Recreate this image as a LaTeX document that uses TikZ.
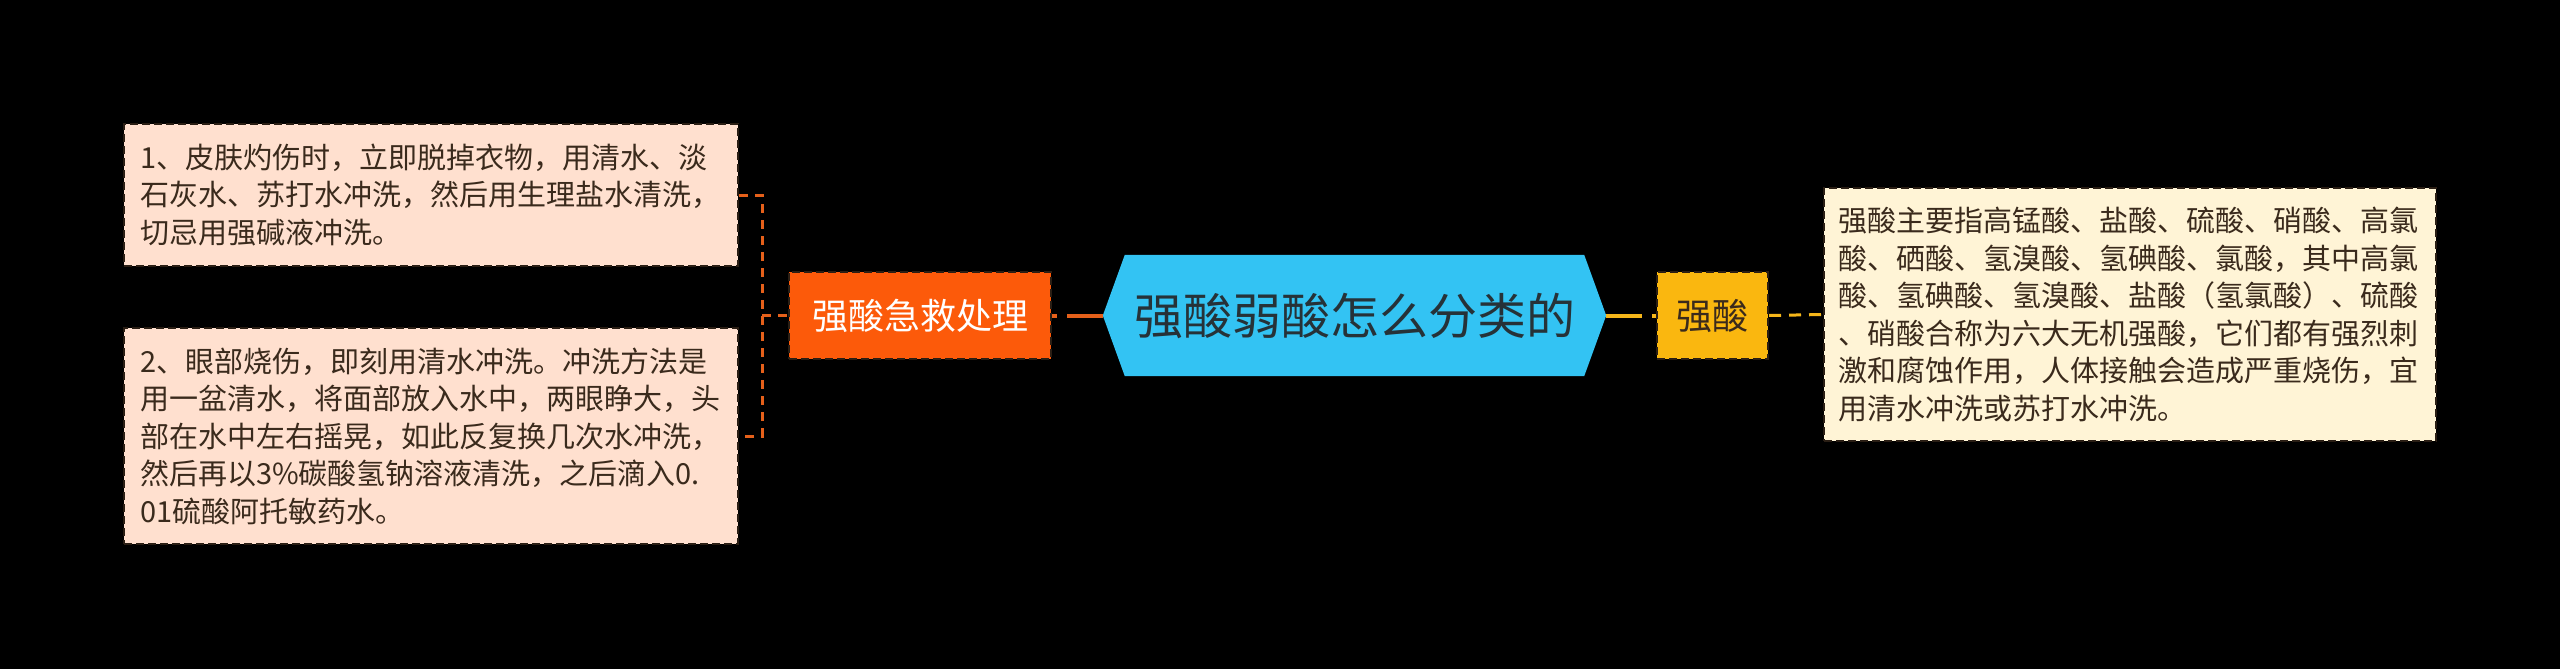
\documentclass[tikz,border=0pt]{standalone}
\usepackage{fontspec}
\setmainfont{Noto Sans CJK SC}
\usetikzlibrary{backgrounds,calc}
\definecolor{peach}{HTML}{FFE0CF}
\definecolor{cream}{HTML}{FFF4D6}
\definecolor{brownt}{HTML}{3A2A1C}
\definecolor{orangen}{HTML}{FC5A0A}
\definecolor{cyann}{HTML}{33C3F3}
\definecolor{yellown}{HTML}{FAB70F}
\definecolor{olinec}{HTML}{E5601A}
\definecolor{ylinec}{HTML}{F5B61A}
\definecolor{titlet}{HTML}{263238}
\definecolor{edgec}{HTML}{2A1E14}
\tikzset{
  textbox/.style={draw=edgec, line width=2pt, dash pattern=on 8pt off 4pt,
    inner xsep=16pt, inner ysep=0pt, align=left, text=brownt,
    font=\fontsize{29}{37.5}\selectfont, anchor=center},
  tagbox/.style={draw=edgec, line width=2pt, dash pattern=on 8pt off 4pt,
    inner sep=0pt, font=\fontsize{36}{44}\selectfont, anchor=center,
    minimum height=87pt},
  oconn/.style={draw=olinec, line width=3pt, dash pattern=on 9pt off 7pt},
  olink/.style={draw=olinec, line width=4pt, dash pattern=on 36pt off 10pt},
  ylink/.style={draw=ylinec, line width=4pt, dash pattern=on 36pt off 10pt},
  yconn/.style={draw=ylinec, line width=3pt, dash pattern=on 12pt off 8pt},
}
\begin{document}
\begin{tikzpicture}[x=1pt,y=-1pt]
\useasboundingbox (0,0) rectangle (2560,669);

% left boxes
\node[textbox, fill=peach, minimum width=614pt, minimum height=142pt, text width=582pt] (b1) at (431,195)
 {1、皮肤灼伤时，立即脱掉衣物，用清水、淡\\石灰水、苏打水冲洗，然后用生理盐水清洗，\\切忌用强碱液冲洗。};
\node[textbox, fill=peach, minimum width=614pt, minimum height=216pt, text width=582pt] (b2) at (431,436)
 {2、眼部烧伤，即刻用清水冲洗。冲洗方法是\\用一盆清水，将面部放入水中，两眼睁大，头\\部在水中左右摇晃，如此反复换几次水冲洗，\\然后再以3\%碳酸氢钠溶液清洗，之后滴入0.\\01硫酸阿托敏药水。};

% orange node
\node[tagbox, fill=orangen, text=white, minimum width=262pt] (aid) at (920,315.5) {强酸急救处理};

% central hexagon (shape drawn on background)
\node[inner sep=0pt, minimum width=503pt, minimum height=121pt, text=titlet,
  font=\fontsize{49}{58}\selectfont] (hex) at (1354.5,315.5) {强酸弱酸怎么分类的};

% yellow node
\node[tagbox, fill=yellown, text=brownt, minimum width=111pt] (strong) at (1712.5,315.5) {强酸};

% right box
\node[textbox, fill=cream, minimum width=612pt, minimum height=253pt, text width=584pt, inner xsep=14pt] (rb) at (2130,314.5)
 {强酸主要指高锰酸、盐酸、硫酸、硝酸、高氯\\酸、硒酸、氢溴酸、氢碘酸、氯酸，其中高氯\\酸、氢碘酸、氢溴酸、盐酸（氢氯酸）、硫酸\\、硝酸合称为六大无机强酸，它们都有强烈刺\\激和腐蚀作用，人体接触会造成严重烧伤，宜\\用清水冲洗或苏打水冲洗。};

\coordinate (br) at (762,315.5);

\begin{scope}[on background layer]
\fill[black] (0,0) rectangle (2560,669);
\fill[cyann] (hex.west) -- ([xshift=22pt]hex.north west) -- ([xshift=-22pt]hex.north east)
  -- (hex.east) -- ([xshift=-22pt]hex.south east) -- ([xshift=22pt]hex.south west) -- cycle;
% connectors
\draw[oconn] (b1.east) -| (br) |- (b2.east);
\draw[oconn] (br) -- (aid.west);
\draw[olink] (hex.west) -- (aid.east);
\draw[ylink] (hex.east) -- (strong.west);
\draw[yconn] (strong.east) -- (rb.west);
\end{scope}
\end{tikzpicture}
\end{document}
